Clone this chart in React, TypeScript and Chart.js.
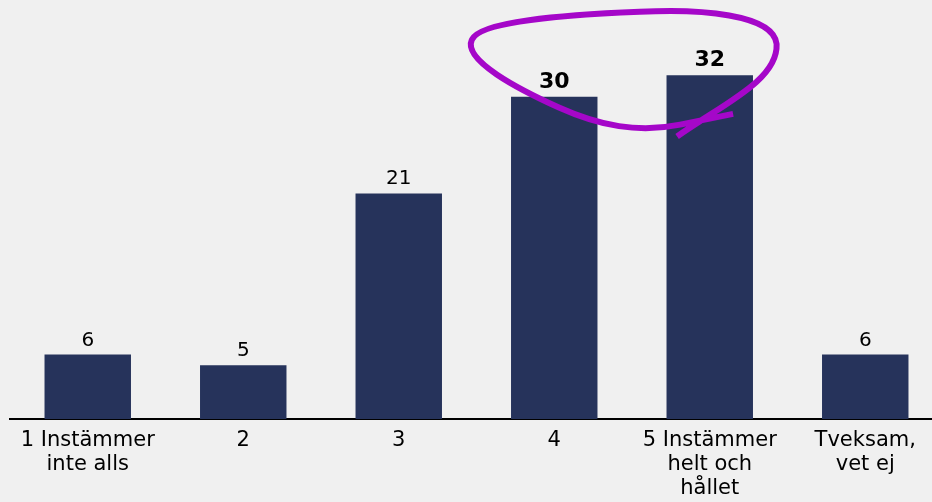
import React, { useEffect, useRef } from "react";
import { Chart, registerables } from "chart.js";

Chart.register(...registerables);

const categories: string[][] = [
  ["1 Instämmer", "inte alls"],
  ["2"],
  ["3"],
  ["4"],
  ["5 Instämmer", "helt och", "hållet"],
  ["Tveksam,", "vet ej"],
];
const values: number[] = [6, 5, 21, 30, 32, 6];
const boldIndexes: number[] = [3, 4];

// hand-drawn circle annotation, in (category index, value) units
const annotationPath: number[][] = [
  [3.79, 26.3],
  [4.07, 29.2], [4.44, 31.5], [4.43, 34.9],
  [4.41, 37.7], [3.93, 38.2], [3.55, 37.9],
  [3.04, 37.6], [2.52, 37.0], [2.47, 35.3],
  [2.41, 33.4], [2.77, 30.7], [3.03, 29.0],
  [3.29, 27.3], [3.54, 26.6], [3.81, 27.4],
];
const annotationTail: number[] = [4.15, 28.4];

export default function App() {
  const ref = useRef<HTMLCanvasElement | null>(null);
  useEffect(() => {
    document.body.style.margin = "0";
    document.body.style.background = "#f0f0f0";
    const labelPlugin = {
      id: "valueLabels",
      afterDatasetsDraw(chart: any) {
        const ctx = chart.ctx;
        const meta = chart.getDatasetMeta(0);
        ctx.save();
        ctx.textAlign = "center";
        ctx.textBaseline = "alphabetic";
        ctx.fillStyle = "#000";
        meta.data.forEach((bar: any, i: number) => {
          const bold = boldIndexes.includes(i);
          ctx.font = bold ? "bold 22px 'DejaVu Sans'" : "20px 'DejaVu Sans'";
          ctx.fillText(String(values[i]), bar.x, bar.y - 9);
        });
        ctx.restore();
      },
      afterDraw(chart: any) {
        const ctx = chart.ctx;
        const xs = chart.scales.x;
        const ys = chart.scales.y;
        const p = (pt: number[]) => [xs.getPixelForValue(pt[0]), ys.getPixelForValue(pt[1])];
        ctx.save();
        ctx.strokeStyle = "#a507c9";
        ctx.lineWidth = 6;
        ctx.lineCap = "butt";
        ctx.lineJoin = "round";
        ctx.beginPath();
        const s = p(annotationPath[0]);
        ctx.moveTo(s[0], s[1]);
        for (let i = 1; i + 2 < annotationPath.length; i += 3) {
          const a = p(annotationPath[i]);
          const b = p(annotationPath[i + 1]);
          const c = p(annotationPath[i + 2]);
          ctx.bezierCurveTo(a[0], a[1], b[0], b[1], c[0], c[1]);
        }
        const t = p(annotationTail);
        ctx.lineTo(t[0], t[1]);
        ctx.stroke();
        ctx.restore();
      },
    };
    const chart = new Chart(ref.current!, {
      type: "bar",
      data: {
        labels: categories,
        datasets: [
          {
            data: values,
            backgroundColor: "#26335b",
            barPercentage: 1,
            categoryPercentage: 0.556,
          },
        ],
      },
      options: {
        animation: false,
        responsive: false,
        maintainAspectRatio: false,
        layout: { padding: { left: 10, right: 1, top: 0, bottom: 0 } },
        plugins: { legend: { display: false }, tooltip: { enabled: false } },
        scales: {
          x: {
            grid: { display: false, drawTicks: false },
            border: { display: true, color: "#000", width: 2 },
            ticks: {
              color: "#000",
              padding: 10,
              maxRotation: 0,
              autoSkip: false,
              font: { family: "'DejaVu Sans'", size: 21, lineHeight: "24px" },
            },
            afterFit: (scale: any) => {
              scale.height = 83;
            },
          },
          y: { display: false, min: 0, max: 39 },
        },
      },
      plugins: [labelPlugin],
    });
    return () => chart.destroy();
  }, []);
  return (
    <div style={{ width: 932, height: 502, overflow: "hidden", background: "#f0f0f0", position: "relative" }}>
      <canvas ref={ref} width={944} height={502} style={{ width: 944, height: 502, display: "block" }} />
    </div>
  );
}
